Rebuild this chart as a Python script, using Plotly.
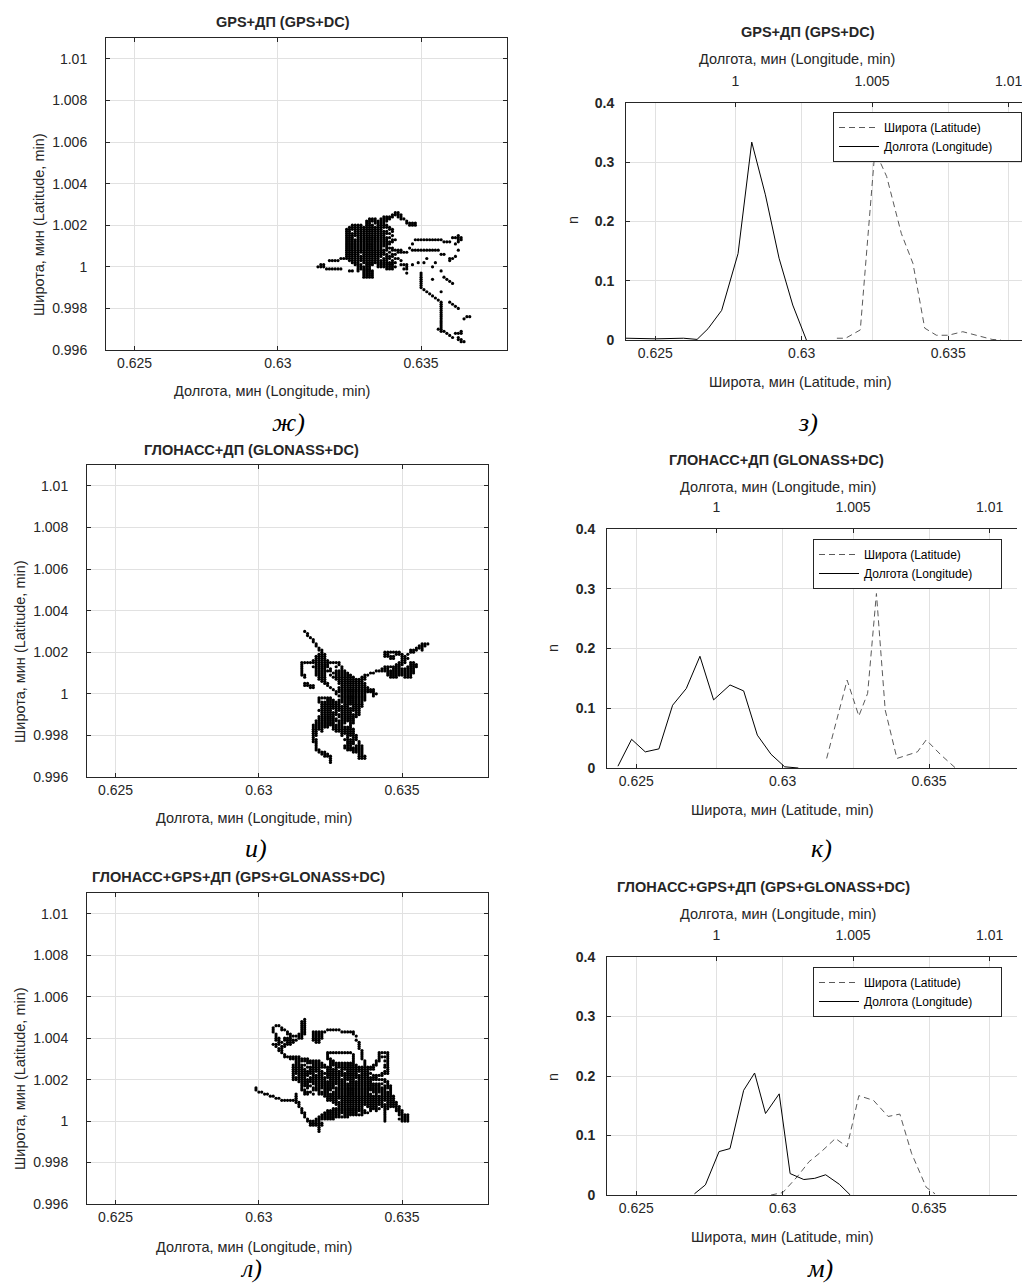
import plotly.graph_objects as go

# Page body has an 8 px default margin; figure is sized so the chart fills the 1030x1287 window.
PAGE_W, PAGE_H, BODY = 1030, 1287, 8
W, H = PAGE_W - BODY, PAGE_H - BODY
FONT = "Liberation Sans, Arial, sans-serif"
SERIF = "Liberation Serif, Times New Roman, serif"
INK = "#262626"
GRID = "#e1e1e1"

# ---------------- DATA ----------------
# Panel ж (GPS+DC): dots grouped by latitude row, longitude values per row
ZH_LAT = [1.0026, 1.0025, 1.0024, 1.0023, 1.0022, 1.0021, 1.0020, 1.0019, 1.0018, 1.0017,
          1.0016, 1.0015, 1.0014, 1.0013, 1.0012, 1.0011, 1.0010, 1.0009, 1.0008, 1.0007,
          1.0006, 1.0005, 1.0004, 1.0003, 1.0002, 1.0001, 1.0000, 0.9999, 0.9998, 0.9997,
          0.9996, 0.9995, 0.9994, 0.9993, 0.9992, 0.9991, 0.9990, 0.9989, 0.9988, 0.9987,
          0.9986, 0.9985, 0.9984, 0.9983, 0.9982, 0.9981, 0.9980, 0.9979, 0.9978, 0.9977,
          0.9976, 0.9975, 0.9974, 0.9973, 0.9972, 0.9971, 0.9970, 0.9969, 0.9968, 0.9967,
          0.9966, 0.9965, 0.9964]
ZH_LON = [
    [0.6341, 0.6342],
    [0.6340, 0.6341, 0.6342, 0.6343],
    [0.6337, 0.6338, 0.6339, 0.6340, 0.6342, 0.6343],
    [0.6332, 0.6333, 0.6334, 0.6336, 0.6337, 0.6338, 0.6339, 0.6343, 0.6344],
    [0.6331, 0.6332, 0.6333, 0.6334, 0.6335, 0.6336, 0.6337, 0.6338, 0.6345],
    [0.6331, 0.6332, 0.6334, 0.6335, 0.6336, 0.6337, 0.6345, 0.6346, 0.6347, 0.6348],
    [0.6326, 0.6327, 0.6328, 0.6329, 0.6331, 0.6332, 0.6333, 0.6335, 0.6336, 0.6337, 0.6338, 0.6346, 0.6347, 0.6348],
    [0.6325, 0.6326, 0.6327, 0.6328, 0.6329, 0.6330, 0.6331, 0.6332, 0.6333, 0.6334, 0.6335, 0.6336, 0.6337, 0.6338, 0.6339],
    [0.6324, 0.6325, 0.6326, 0.6327, 0.6328, 0.6329, 0.6330, 0.6331, 0.6332, 0.6333, 0.6334, 0.6335, 0.6336, 0.6339, 0.6340],
    [0.6324, 0.6325, 0.6327, 0.6328, 0.6329, 0.6330, 0.6331, 0.6332, 0.6333, 0.6334, 0.6335, 0.6336, 0.6337, 0.6338, 0.6340],
    [0.6324, 0.6325, 0.6326, 0.6327, 0.6328, 0.6329, 0.6330, 0.6331, 0.6332, 0.6333, 0.6334, 0.6335, 0.6336, 0.6337, 0.6338, 0.6339],
    [0.6324, 0.6325, 0.6326, 0.6327, 0.6328, 0.6329, 0.6330, 0.6331, 0.6332, 0.6333, 0.6334, 0.6335, 0.6336, 0.6337, 0.6340, 0.6363],
    [0.6324, 0.6325, 0.6326, 0.6328, 0.6329, 0.6330, 0.6331, 0.6332, 0.6333, 0.6334, 0.6335, 0.6336, 0.6337, 0.6338, 0.6339, 0.6361, 0.6362, 0.6363, 0.6364],
    [0.6324, 0.6325, 0.6326, 0.6327, 0.6328, 0.6329, 0.6330, 0.6331, 0.6332, 0.6333, 0.6334, 0.6335, 0.6336, 0.6337, 0.6338, 0.6340, 0.6341, 0.6348, 0.6349, 0.6350, 0.6351, 0.6352, 0.6353, 0.6354, 0.6355, 0.6356, 0.6357, 0.6363, 0.6364],
    [0.6324, 0.6325, 0.6326, 0.6327, 0.6328, 0.6329, 0.6330, 0.6331, 0.6332, 0.6333, 0.6334, 0.6335, 0.6336, 0.6337, 0.6338, 0.6339, 0.6340, 0.6358, 0.6359, 0.6360, 0.6363],
    [0.6324, 0.6325, 0.6326, 0.6327, 0.6328, 0.6329, 0.6330, 0.6331, 0.6332, 0.6333, 0.6334, 0.6335, 0.6336, 0.6337, 0.6338, 0.6339, 0.6347, 0.6362],
    [0.6324, 0.6325, 0.6326, 0.6327, 0.6328, 0.6329, 0.6330, 0.6331, 0.6332, 0.6333, 0.6334, 0.6335, 0.6336, 0.6337, 0.6338],
    [0.6324, 0.6325, 0.6326, 0.6327, 0.6328, 0.6329, 0.6330, 0.6331, 0.6332, 0.6333, 0.6334, 0.6335, 0.6336, 0.6338, 0.6339, 0.6340, 0.6346],
    [0.6324, 0.6325, 0.6326, 0.6327, 0.6328, 0.6329, 0.6330, 0.6331, 0.6332, 0.6333, 0.6334, 0.6335, 0.6336, 0.6337, 0.6338, 0.6340, 0.6341, 0.6342, 0.6343, 0.6347, 0.6348, 0.6349, 0.6350, 0.6351, 0.6352, 0.6353, 0.6354, 0.6355, 0.6356, 0.6363],
    [0.6324, 0.6325, 0.6326, 0.6327, 0.6328, 0.6329, 0.6330, 0.6331, 0.6332, 0.6333, 0.6334, 0.6335, 0.6336, 0.6337, 0.6339, 0.6342, 0.6343, 0.6344, 0.6345],
    [0.6324, 0.6325, 0.6326, 0.6327, 0.6328, 0.6330, 0.6331, 0.6332, 0.6333, 0.6334, 0.6335, 0.6336, 0.6337, 0.6338, 0.6340, 0.6341, 0.6357, 0.6358],
    [0.6324, 0.6325, 0.6326, 0.6327, 0.6328, 0.6329, 0.6330, 0.6331, 0.6332, 0.6333, 0.6334, 0.6335, 0.6336, 0.6338, 0.6339, 0.6340, 0.6362],
    [0.6322, 0.6323, 0.6324, 0.6325, 0.6326, 0.6327, 0.6328, 0.6329, 0.6330, 0.6331, 0.6332, 0.6333, 0.6334, 0.6335, 0.6337, 0.6338, 0.6339, 0.6341, 0.6342, 0.6352, 0.6360, 0.6361],
    [0.6318, 0.6319, 0.6320, 0.6321, 0.6325, 0.6326, 0.6327, 0.6328, 0.6329, 0.6330, 0.6331, 0.6332, 0.6333, 0.6334, 0.6335, 0.6336, 0.6337, 0.6338, 0.6340, 0.6343, 0.6360],
    [0.6326, 0.6327, 0.6328, 0.6330, 0.6331, 0.6332, 0.6333, 0.6334, 0.6335, 0.6336, 0.6337, 0.6338, 0.6339, 0.6340, 0.6341, 0.6349, 0.6351, 0.6355],
    [0.6315, 0.6316, 0.6327, 0.6328, 0.6329, 0.6331, 0.6332, 0.6333, 0.6335, 0.6336, 0.6337, 0.6338, 0.6339, 0.6340, 0.6343, 0.6344, 0.6345, 0.6347],
    [0.6314, 0.6315, 0.6316, 0.6328, 0.6329, 0.6330, 0.6331, 0.6332, 0.6335, 0.6336, 0.6337, 0.6338, 0.6339, 0.6340, 0.6341, 0.6345, 0.6354],
    [0.6317, 0.6318, 0.6319, 0.6320, 0.6321, 0.6322, 0.6328, 0.6329, 0.6330, 0.6331, 0.6332, 0.6338, 0.6339, 0.6340, 0.6344, 0.6345],
    [0.6325, 0.6326, 0.6328, 0.6330, 0.6331, 0.6332, 0.6333, 0.6357],
    [0.6330, 0.6331, 0.6332, 0.6333, 0.6345, 0.6350],
    [0.6330, 0.6331, 0.6332, 0.6333, 0.6350],
    [0.6330, 0.6331, 0.6332, 0.6333, 0.6350, 0.6358],
    [0.6350, 0.6354, 0.6359],
    [0.6350, 0.6360],
    [0.6350, 0.6361],
    [0.6350],
    [0.6350],
    [0.6351],
    [0.6352, 0.6357],
    [0.6353],
    [0.6354],
    [0.6355],
    [0.6356],
    [0.6357, 0.6360],
    [0.6357, 0.6361],
    [0.6357, 0.6362],
    [0.6357, 0.6363],
    [0.6357],
    [0.6357],
    [0.6357],
    [0.6357, 0.6366, 0.6367],
    [0.6357, 0.6365],
    [0.6357],
    [0.6357],
    [0.6357],
    [0.6357],
    [0.6356, 0.6357],
    [0.6357, 0.6358, 0.6364],
    [0.6359, 0.6362, 0.6363, 0.6364],
    [0.6360],
    [0.6361, 0.6363],
    [0.6363, 0.6364],
    [0.6364, 0.6365],
]

# Panel и (GLONASS+DC)
I_LAT = [1.0030, 1.0029, 1.0028, 1.0027, 1.0026, 1.0025, 1.0024, 1.0023, 1.0022, 1.0021,
         1.0020, 1.0019, 1.0018, 1.0017, 1.0016, 1.0015, 1.0014, 1.0013, 1.0012, 1.0011,
         1.0010, 1.0009, 1.0008, 1.0007, 1.0006, 1.0005, 1.0004, 1.0003, 1.0002, 1.0001,
         1.0000, 0.9999, 0.9998, 0.9997, 0.9996, 0.9995, 0.9994, 0.9993, 0.9992, 0.9991,
         0.9990, 0.9989, 0.9988, 0.9987, 0.9986, 0.9985, 0.9984, 0.9983, 0.9982, 0.9981,
         0.9980, 0.9979, 0.9978, 0.9977, 0.9976, 0.9975, 0.9974, 0.9973, 0.9972, 0.9971,
         0.9970, 0.9969, 0.9968, 0.9967]
I_LON = [
    [0.6316],
    [0.6317],
    [0.6317],
    [0.6318],
    [0.6319],
    [0.6319],
    [0.6320, 0.6357, 0.6358, 0.6359],
    [0.6320, 0.6356, 0.6357, 0.6358],
    [0.6321, 0.6355, 0.6356, 0.6357],
    [0.6321, 0.6322, 0.6353, 0.6354, 0.6355, 0.6357],
    [0.6322, 0.6344, 0.6345, 0.6346, 0.6347, 0.6348, 0.6349, 0.6353, 0.6354],
    [0.6321, 0.6322, 0.6323, 0.6344, 0.6345, 0.6348, 0.6349, 0.6350, 0.6352],
    [0.6320, 0.6321, 0.6322, 0.6323, 0.6344, 0.6345, 0.6346, 0.6347, 0.6350, 0.6351],
    [0.6320, 0.6321, 0.6322, 0.6323, 0.6346, 0.6347, 0.6350, 0.6351, 0.6352],
    [0.6319, 0.6320, 0.6321, 0.6322, 0.6323, 0.6324, 0.6350, 0.6351],
    [0.6315, 0.6316, 0.6317, 0.6318, 0.6319, 0.6320, 0.6321, 0.6322, 0.6323, 0.6324, 0.6325, 0.6326, 0.6327, 0.6328, 0.6349, 0.6350, 0.6351, 0.6353, 0.6354],
    [0.6315, 0.6320, 0.6321, 0.6322, 0.6323, 0.6324, 0.6328, 0.6348, 0.6349, 0.6350, 0.6353, 0.6354, 0.6355],
    [0.6315, 0.6319, 0.6320, 0.6321, 0.6322, 0.6323, 0.6324, 0.6327, 0.6329, 0.6344, 0.6345, 0.6346, 0.6347, 0.6348, 0.6349, 0.6352, 0.6353, 0.6354, 0.6355],
    [0.6315, 0.6320, 0.6321, 0.6322, 0.6323, 0.6325, 0.6329, 0.6343, 0.6344, 0.6345, 0.6347, 0.6348, 0.6349, 0.6350, 0.6351, 0.6352, 0.6353, 0.6354],
    [0.6315, 0.6320, 0.6321, 0.6322, 0.6323, 0.6324, 0.6325, 0.6327, 0.6328, 0.6329, 0.6330, 0.6341, 0.6342, 0.6343, 0.6344, 0.6345, 0.6346, 0.6347, 0.6348, 0.6349, 0.6350, 0.6351, 0.6352, 0.6353, 0.6354],
    [0.6315, 0.6320, 0.6321, 0.6322, 0.6323, 0.6326, 0.6327, 0.6328, 0.6329, 0.6330, 0.6331, 0.6339, 0.6340, 0.6345, 0.6346, 0.6347, 0.6348, 0.6349, 0.6350, 0.6351, 0.6352, 0.6353, 0.6354],
    [0.6315, 0.6316, 0.6320, 0.6321, 0.6322, 0.6323, 0.6325, 0.6327, 0.6328, 0.6329, 0.6330, 0.6331, 0.6332, 0.6337, 0.6338, 0.6345, 0.6346, 0.6347, 0.6348, 0.6349, 0.6350, 0.6351, 0.6352, 0.6353],
    [0.6316, 0.6321, 0.6322, 0.6323, 0.6326, 0.6327, 0.6328, 0.6329, 0.6330, 0.6331, 0.6332, 0.6333, 0.6336, 0.6337, 0.6346, 0.6347, 0.6348, 0.6351, 0.6352, 0.6353],
    [0.6321, 0.6322, 0.6323, 0.6327, 0.6328, 0.6329, 0.6330, 0.6331, 0.6332, 0.6333, 0.6334, 0.6335, 0.6336, 0.6337],
    [0.6322, 0.6323, 0.6328, 0.6329, 0.6330, 0.6331, 0.6332, 0.6333, 0.6334, 0.6335, 0.6336],
    [0.6316, 0.6317, 0.6323, 0.6324, 0.6328, 0.6329, 0.6330, 0.6331, 0.6332, 0.6333, 0.6334, 0.6335, 0.6336, 0.6337],
    [0.6316, 0.6317, 0.6318, 0.6319, 0.6324, 0.6329, 0.6330, 0.6331, 0.6332, 0.6333, 0.6334, 0.6335, 0.6336, 0.6337],
    [0.6318, 0.6319, 0.6325, 0.6328, 0.6329, 0.6330, 0.6331, 0.6332, 0.6333, 0.6334, 0.6335, 0.6336, 0.6337, 0.6338],
    [0.6326, 0.6328, 0.6329, 0.6330, 0.6331, 0.6332, 0.6333, 0.6334, 0.6335, 0.6336, 0.6337, 0.6338, 0.6339, 0.6340],
    [0.6327, 0.6328, 0.6329, 0.6330, 0.6331, 0.6332, 0.6333, 0.6334, 0.6335, 0.6336, 0.6337, 0.6338, 0.6339, 0.6340],
    [0.6327, 0.6329, 0.6330, 0.6331, 0.6332, 0.6333, 0.6334, 0.6335, 0.6336, 0.6337, 0.6340, 0.6341],
    [0.6328, 0.6329, 0.6330, 0.6331, 0.6332, 0.6333, 0.6334, 0.6335, 0.6336, 0.6337, 0.6340],
    [0.6321, 0.6322, 0.6323, 0.6324, 0.6325, 0.6329, 0.6330, 0.6331, 0.6332, 0.6333, 0.6334, 0.6335, 0.6336, 0.6337],
    [0.6321, 0.6324, 0.6325, 0.6326, 0.6328, 0.6329, 0.6330, 0.6331, 0.6332, 0.6333, 0.6334, 0.6335, 0.6336, 0.6337],
    [0.6321, 0.6322, 0.6323, 0.6324, 0.6325, 0.6326, 0.6327, 0.6328, 0.6329, 0.6330, 0.6331, 0.6332, 0.6333, 0.6334, 0.6335, 0.6336],
    [0.6322, 0.6323, 0.6324, 0.6325, 0.6326, 0.6327, 0.6328, 0.6330, 0.6331, 0.6332, 0.6333, 0.6334, 0.6335, 0.6336],
    [0.6322, 0.6323, 0.6324, 0.6325, 0.6326, 0.6327, 0.6328, 0.6329, 0.6330, 0.6331, 0.6333, 0.6334, 0.6335, 0.6336],
    [0.6322, 0.6323, 0.6324, 0.6325, 0.6326, 0.6327, 0.6328, 0.6329, 0.6330, 0.6331, 0.6332, 0.6333, 0.6334, 0.6335],
    [0.6321, 0.6322, 0.6323, 0.6324, 0.6325, 0.6327, 0.6328, 0.6329, 0.6330, 0.6331, 0.6332, 0.6333, 0.6334, 0.6335],
    [0.6322, 0.6323, 0.6324, 0.6325, 0.6326, 0.6327, 0.6329, 0.6330, 0.6331, 0.6332, 0.6334, 0.6335],
    [0.6322, 0.6323, 0.6324, 0.6325, 0.6326, 0.6327, 0.6328, 0.6329, 0.6330, 0.6331, 0.6332, 0.6333, 0.6334, 0.6335],
    [0.6321, 0.6322, 0.6323, 0.6324, 0.6325, 0.6326, 0.6328, 0.6329, 0.6330, 0.6331, 0.6332, 0.6333, 0.6334],
    [0.6321, 0.6322, 0.6323, 0.6324, 0.6325, 0.6326, 0.6327, 0.6329, 0.6330, 0.6331, 0.6332, 0.6333],
    [0.6320, 0.6321, 0.6322, 0.6323, 0.6324, 0.6325, 0.6326, 0.6327, 0.6328, 0.6329, 0.6330, 0.6331, 0.6332, 0.6333],
    [0.6320, 0.6321, 0.6322, 0.6323, 0.6324, 0.6325, 0.6326, 0.6328, 0.6329, 0.6330, 0.6332, 0.6333],
    [0.6319, 0.6320, 0.6321, 0.6322, 0.6323, 0.6324, 0.6325, 0.6326, 0.6327, 0.6328, 0.6329, 0.6332],
    [0.6319, 0.6320, 0.6321, 0.6322, 0.6323, 0.6324, 0.6326, 0.6327, 0.6328, 0.6329, 0.6330, 0.6331, 0.6332],
    [0.6319, 0.6320, 0.6321, 0.6322, 0.6326, 0.6327, 0.6328, 0.6329, 0.6330, 0.6331, 0.6332, 0.6333],
    [0.6319, 0.6320, 0.6322, 0.6327, 0.6328, 0.6329, 0.6330, 0.6331, 0.6332, 0.6333],
    [0.6319, 0.6320, 0.6329, 0.6330, 0.6331, 0.6332, 0.6333],
    [0.6319, 0.6320, 0.6329, 0.6331, 0.6332, 0.6333, 0.6334],
    [0.6319, 0.6331, 0.6333, 0.6334],
    [0.6319, 0.6320, 0.6330, 0.6331, 0.6332, 0.6333, 0.6334],
    [0.6319, 0.6320, 0.6331, 0.6332, 0.6333, 0.6335],
    [0.6320, 0.6331, 0.6332, 0.6333, 0.6335],
    [0.6320, 0.6330, 0.6331, 0.6332, 0.6334, 0.6335, 0.6336],
    [0.6320, 0.6330, 0.6331, 0.6332, 0.6333, 0.6334, 0.6335, 0.6336],
    [0.6320, 0.6321, 0.6331, 0.6332, 0.6333, 0.6334, 0.6335, 0.6336],
    [0.6321, 0.6322, 0.6323, 0.6333, 0.6334, 0.6335, 0.6336],
    [0.6322, 0.6323, 0.6324, 0.6335, 0.6336],
    [0.6323, 0.6324, 0.6325, 0.6335, 0.6336, 0.6337],
    [0.6325, 0.6335, 0.6336, 0.6337],
    [0.6325],
    [0.6325],
]

# Panel л (GPS+GLONASS+DC)
L_LAT = [1.0049, 1.0048, 1.0047, 1.0046, 1.0045, 1.0044, 1.0043, 1.0042, 1.0041, 1.0040,
         1.0039, 1.0038, 1.0037, 1.0036, 1.0035, 1.0034, 1.0033, 1.0032, 1.0031, 1.0030,
         1.0029, 1.0028, 1.0027, 1.0026, 1.0025, 1.0024, 1.0023, 1.0022, 1.0021, 1.0020,
         1.0019, 1.0018, 1.0017, 1.0016, 1.0015, 1.0014, 1.0013, 1.0012, 1.0011, 1.0010,
         1.0009, 1.0008, 1.0007, 1.0006, 1.0005, 1.0004, 1.0003, 1.0002, 1.0001, 1.0000,
         0.9999, 0.9998, 0.9997, 0.9996, 0.9995]
L_LON = [
    [0.6316],
    [0.6315, 0.6316],
    [0.6315, 0.6316],
    [0.6306, 0.6307, 0.6315, 0.6316],
    [0.6305, 0.6308, 0.6315, 0.6316],
    [0.6305, 0.6308, 0.6309, 0.6315, 0.6316, 0.6324, 0.6325, 0.6326, 0.6327, 0.6328],
    [0.6305, 0.6310, 0.6315, 0.6316, 0.6319, 0.6320, 0.6321, 0.6322, 0.6323, 0.6329, 0.6330, 0.6331, 0.6332, 0.6333],
    [0.6306, 0.6310, 0.6311, 0.6314, 0.6315, 0.6316, 0.6319, 0.6320, 0.6321, 0.6322, 0.6333],
    [0.6306, 0.6311, 0.6312, 0.6313, 0.6314, 0.6315, 0.6319, 0.6320, 0.6321, 0.6322, 0.6334],
    [0.6306, 0.6307, 0.6309, 0.6310, 0.6311, 0.6314, 0.6315, 0.6319, 0.6320, 0.6321, 0.6322],
    [0.6306, 0.6307, 0.6309, 0.6310, 0.6311, 0.6312, 0.6313, 0.6319, 0.6320, 0.6321, 0.6334],
    [0.6307, 0.6308, 0.6310, 0.6311, 0.6312, 0.6320, 0.6321, 0.6335],
    [0.6305, 0.6306, 0.6307, 0.6309, 0.6310, 0.6311, 0.6335],
    [0.6306, 0.6308, 0.6309, 0.6335],
    [0.6307, 0.6308, 0.6335],
    [0.6307, 0.6308, 0.6336],
    [0.6308, 0.6324, 0.6325, 0.6326, 0.6327, 0.6328, 0.6329, 0.6330, 0.6331, 0.6332, 0.6336, 0.6342, 0.6343, 0.6344, 0.6345],
    [0.6309, 0.6324, 0.6333, 0.6336, 0.6342, 0.6345],
    [0.6309, 0.6310, 0.6311, 0.6312, 0.6313, 0.6314, 0.6324, 0.6333, 0.6336, 0.6342, 0.6343, 0.6344, 0.6345],
    [0.6311, 0.6312, 0.6313, 0.6314, 0.6315, 0.6316, 0.6317, 0.6324, 0.6325, 0.6333, 0.6336, 0.6342, 0.6345],
    [0.6313, 0.6314, 0.6315, 0.6316, 0.6317, 0.6318, 0.6319, 0.6320, 0.6321, 0.6325, 0.6326, 0.6333, 0.6337, 0.6341, 0.6342, 0.6344, 0.6345],
    [0.6313, 0.6314, 0.6317, 0.6318, 0.6319, 0.6320, 0.6321, 0.6322, 0.6325, 0.6326, 0.6327, 0.6328, 0.6329, 0.6330, 0.6331, 0.6332, 0.6333, 0.6337, 0.6341, 0.6345],
    [0.6312, 0.6313, 0.6314, 0.6315, 0.6316, 0.6319, 0.6320, 0.6321, 0.6322, 0.6323, 0.6325, 0.6326, 0.6327, 0.6328, 0.6329, 0.6330, 0.6331, 0.6332, 0.6333, 0.6334, 0.6337, 0.6340, 0.6341, 0.6344, 0.6345],
    [0.6312, 0.6313, 0.6314, 0.6315, 0.6317, 0.6318, 0.6319, 0.6320, 0.6321, 0.6322, 0.6323, 0.6324, 0.6325, 0.6327, 0.6328, 0.6329, 0.6330, 0.6331, 0.6332, 0.6333, 0.6334, 0.6335, 0.6336, 0.6337, 0.6338, 0.6339, 0.6340, 0.6344, 0.6345],
    [0.6312, 0.6313, 0.6314, 0.6315, 0.6316, 0.6318, 0.6319, 0.6320, 0.6321, 0.6324, 0.6325, 0.6326, 0.6327, 0.6329, 0.6330, 0.6331, 0.6332, 0.6333, 0.6334, 0.6335, 0.6336, 0.6337, 0.6338, 0.6339, 0.6340, 0.6345],
    [0.6312, 0.6313, 0.6314, 0.6315, 0.6316, 0.6317, 0.6318, 0.6319, 0.6320, 0.6321, 0.6322, 0.6324, 0.6325, 0.6326, 0.6327, 0.6328, 0.6329, 0.6331, 0.6332, 0.6333, 0.6334, 0.6335, 0.6336, 0.6337, 0.6338, 0.6344, 0.6345],
    [0.6312, 0.6313, 0.6314, 0.6315, 0.6316, 0.6317, 0.6318, 0.6319, 0.6321, 0.6322, 0.6323, 0.6324, 0.6325, 0.6326, 0.6327, 0.6328, 0.6329, 0.6330, 0.6331, 0.6332, 0.6333, 0.6334, 0.6336, 0.6337, 0.6338, 0.6339, 0.6343, 0.6344, 0.6345],
    [0.6312, 0.6314, 0.6315, 0.6316, 0.6317, 0.6319, 0.6320, 0.6321, 0.6322, 0.6324, 0.6325, 0.6326, 0.6327, 0.6328, 0.6329, 0.6330, 0.6331, 0.6332, 0.6333, 0.6334, 0.6335, 0.6336, 0.6337, 0.6338, 0.6340, 0.6341, 0.6342, 0.6343],
    [0.6312, 0.6313, 0.6314, 0.6315, 0.6316, 0.6318, 0.6319, 0.6320, 0.6321, 0.6322, 0.6323, 0.6324, 0.6325, 0.6326, 0.6327, 0.6328, 0.6330, 0.6331, 0.6332, 0.6333, 0.6334, 0.6335, 0.6336, 0.6337, 0.6338, 0.6339, 0.6340, 0.6341],
    [0.6312, 0.6313, 0.6314, 0.6315, 0.6316, 0.6317, 0.6318, 0.6319, 0.6320, 0.6321, 0.6322, 0.6323, 0.6325, 0.6326, 0.6327, 0.6328, 0.6329, 0.6330, 0.6331, 0.6332, 0.6333, 0.6335, 0.6336, 0.6337, 0.6338, 0.6339, 0.6340, 0.6341, 0.6342, 0.6343, 0.6344],
    [0.6314, 0.6315, 0.6316, 0.6317, 0.6318, 0.6319, 0.6320, 0.6321, 0.6322, 0.6323, 0.6324, 0.6325, 0.6326, 0.6327, 0.6328, 0.6329, 0.6330, 0.6332, 0.6333, 0.6334, 0.6335, 0.6336, 0.6337, 0.6338, 0.6339, 0.6344, 0.6345],
    [0.6315, 0.6316, 0.6317, 0.6319, 0.6320, 0.6321, 0.6322, 0.6323, 0.6324, 0.6325, 0.6326, 0.6327, 0.6328, 0.6329, 0.6330, 0.6331, 0.6332, 0.6333, 0.6334, 0.6335, 0.6336, 0.6337, 0.6338, 0.6339, 0.6340, 0.6341, 0.6342, 0.6343, 0.6345],
    [0.6315, 0.6316, 0.6317, 0.6318, 0.6320, 0.6321, 0.6322, 0.6323, 0.6324, 0.6325, 0.6326, 0.6328, 0.6329, 0.6330, 0.6331, 0.6332, 0.6333, 0.6334, 0.6335, 0.6336, 0.6337, 0.6338, 0.6339, 0.6340, 0.6341, 0.6342, 0.6344, 0.6345, 0.6346],
    [0.6299, 0.6315, 0.6317, 0.6319, 0.6320, 0.6321, 0.6322, 0.6323, 0.6324, 0.6325, 0.6326, 0.6327, 0.6328, 0.6329, 0.6330, 0.6331, 0.6332, 0.6333, 0.6334, 0.6335, 0.6336, 0.6337, 0.6338, 0.6339, 0.6340, 0.6341, 0.6342, 0.6343, 0.6344, 0.6345, 0.6346],
    [0.6299, 0.6315, 0.6316, 0.6319, 0.6320, 0.6321, 0.6323, 0.6324, 0.6325, 0.6327, 0.6328, 0.6329, 0.6330, 0.6331, 0.6332, 0.6333, 0.6334, 0.6335, 0.6336, 0.6337, 0.6338, 0.6339, 0.6340, 0.6341, 0.6342, 0.6343, 0.6344, 0.6346],
    [0.6300, 0.6301, 0.6316, 0.6317, 0.6318, 0.6321, 0.6322, 0.6323, 0.6324, 0.6326, 0.6327, 0.6328, 0.6329, 0.6330, 0.6331, 0.6332, 0.6333, 0.6334, 0.6335, 0.6336, 0.6337, 0.6338, 0.6340, 0.6341, 0.6342, 0.6343, 0.6344, 0.6345, 0.6346],
    [0.6302, 0.6303, 0.6313, 0.6316, 0.6317, 0.6319, 0.6321, 0.6322, 0.6323, 0.6324, 0.6325, 0.6326, 0.6327, 0.6328, 0.6329, 0.6330, 0.6331, 0.6332, 0.6333, 0.6334, 0.6335, 0.6336, 0.6337, 0.6338, 0.6339, 0.6341, 0.6343, 0.6344, 0.6345, 0.6346],
    [0.6304, 0.6305, 0.6313, 0.6323, 0.6324, 0.6325, 0.6326, 0.6327, 0.6328, 0.6329, 0.6330, 0.6331, 0.6332, 0.6333, 0.6334, 0.6335, 0.6336, 0.6337, 0.6338, 0.6339, 0.6340, 0.6341, 0.6342, 0.6343, 0.6344, 0.6345, 0.6346, 0.6347],
    [0.6306, 0.6307, 0.6313, 0.6324, 0.6325, 0.6326, 0.6327, 0.6328, 0.6329, 0.6330, 0.6331, 0.6332, 0.6333, 0.6334, 0.6335, 0.6336, 0.6337, 0.6338, 0.6339, 0.6340, 0.6341, 0.6342, 0.6343, 0.6344, 0.6345, 0.6346, 0.6347],
    [0.6308, 0.6309, 0.6310, 0.6311, 0.6312, 0.6313, 0.6324, 0.6325, 0.6326, 0.6327, 0.6329, 0.6330, 0.6331, 0.6332, 0.6333, 0.6334, 0.6335, 0.6336, 0.6337, 0.6338, 0.6339, 0.6340, 0.6341, 0.6342, 0.6343, 0.6344, 0.6345, 0.6346, 0.6347],
    [0.6313, 0.6314, 0.6326, 0.6327, 0.6328, 0.6329, 0.6330, 0.6331, 0.6332, 0.6333, 0.6334, 0.6335, 0.6336, 0.6337, 0.6338, 0.6339, 0.6340, 0.6341, 0.6342, 0.6343, 0.6345, 0.6346, 0.6347, 0.6348],
    [0.6314, 0.6327, 0.6328, 0.6329, 0.6330, 0.6331, 0.6332, 0.6333, 0.6334, 0.6335, 0.6336, 0.6337, 0.6338, 0.6339, 0.6340, 0.6341, 0.6342, 0.6343, 0.6344, 0.6345, 0.6346, 0.6347, 0.6348],
    [0.6314, 0.6328, 0.6329, 0.6330, 0.6331, 0.6332, 0.6333, 0.6334, 0.6335, 0.6336, 0.6338, 0.6339, 0.6340, 0.6341, 0.6343, 0.6344, 0.6345, 0.6346, 0.6347, 0.6348, 0.6349],
    [0.6315, 0.6326, 0.6327, 0.6328, 0.6329, 0.6330, 0.6331, 0.6332, 0.6333, 0.6334, 0.6335, 0.6336, 0.6339, 0.6340, 0.6341, 0.6342, 0.6344, 0.6345, 0.6348, 0.6349],
    [0.6315, 0.6324, 0.6325, 0.6326, 0.6327, 0.6328, 0.6329, 0.6330, 0.6331, 0.6332, 0.6333, 0.6334, 0.6335, 0.6336, 0.6337, 0.6339, 0.6341, 0.6344, 0.6348, 0.6349, 0.6350],
    [0.6315, 0.6316, 0.6323, 0.6324, 0.6325, 0.6326, 0.6327, 0.6328, 0.6329, 0.6330, 0.6331, 0.6332, 0.6333, 0.6334, 0.6336, 0.6337, 0.6338, 0.6344, 0.6349, 0.6350],
    [0.6316, 0.6322, 0.6323, 0.6324, 0.6325, 0.6326, 0.6327, 0.6328, 0.6330, 0.6331, 0.6332, 0.6333, 0.6334, 0.6335, 0.6336, 0.6344, 0.6349, 0.6350, 0.6351, 0.6352],
    [0.6316, 0.6321, 0.6322, 0.6323, 0.6324, 0.6325, 0.6326, 0.6327, 0.6328, 0.6329, 0.6330, 0.6331, 0.6344, 0.6350, 0.6351, 0.6352],
    [0.6317, 0.6320, 0.6321, 0.6322, 0.6323, 0.6324, 0.6325, 0.6326, 0.6344, 0.6349, 0.6350, 0.6351, 0.6352],
    [0.6317, 0.6318, 0.6319, 0.6320, 0.6321, 0.6344, 0.6350, 0.6351, 0.6352],
    [0.6318, 0.6319, 0.6320, 0.6321, 0.6322],
    [0.6318, 0.6319, 0.6320, 0.6321, 0.6322],
    [0.6321],
    [0.6321],
    [0.6321],
]

# Histogram з (GPS+DC)
Z_LAT_X = [0.6312, 0.6315, 0.6320, 0.6325, 0.6329, 0.6334, 0.6338, 0.6342, 0.6346, 0.6350, 0.6355, 0.6361, 0.6365, 0.6368]
Z_LAT_N = [0.003, 0.003, 0.017, 0.320, 0.276, 0.180, 0.129, 0.020, 0.008, 0.008, 0.014, 0.006, 0.001, 0.000]
Z_LON_X = [0.9960, 0.9971, 0.9981, 0.9986, 0.9990, 0.9995, 1.0001, 1.0006, 1.0011, 1.0016, 1.0021, 1.0026]
Z_LON_N = [0.003, 0.002, 0.003, 0.001, 0.019, 0.050, 0.146, 0.334, 0.245, 0.138, 0.059, 0.000]

# Histogram к (GLONASS+DC)
K_LAT_X = [0.6315, 0.6322, 0.6326, 0.6329, 0.6332, 0.6335, 0.6339, 0.6346, 0.6349, 0.6354, 0.6359]
K_LAT_N = [0.016, 0.147, 0.087, 0.125, 0.292, 0.097, 0.016, 0.027, 0.047, 0.022, 0.000]
K_LON_X = [0.9964, 0.9969, 0.9974, 0.9979, 0.9984, 0.9989, 0.9994, 0.9999, 1.0005, 1.0010, 1.0015, 1.0020, 1.0025, 1.0030]
K_LON_N = [0.003, 0.048, 0.027, 0.032, 0.105, 0.133, 0.187, 0.114, 0.139, 0.129, 0.055, 0.023, 0.002, 0.000]

# Histogram м (GPS+GLONASS+DC)
M_LAT_X = [0.6296, 0.6300, 0.6305, 0.6309, 0.6313, 0.6318, 0.6322, 0.6326, 0.6331, 0.6336, 0.6340, 0.6344, 0.6349, 0.6352]
M_LAT_N = [0.000, 0.004, 0.031, 0.056, 0.072, 0.095, 0.081, 0.167, 0.159, 0.132, 0.136, 0.070, 0.013, 0.002]
M_LON_X = [0.9992, 0.9996, 1.0001, 1.0005, 1.0010, 1.0014, 1.0018, 1.0023, 1.0027, 1.0032, 1.0036, 1.0040, 1.0045, 1.0049]
M_LON_N = [0.002, 0.017, 0.073, 0.078, 0.176, 0.205, 0.137, 0.170, 0.036, 0.026, 0.028, 0.034, 0.018, 0.000]

SC_XTICKS = [0.625, 0.63, 0.635]
SC_XTEXT = ["0.625", "0.63", "0.635"]
SC_YTICKS = [0.996, 0.998, 1.0, 1.002, 1.004, 1.006, 1.008, 1.01]
SC_YTEXT = ["0.996", "0.998", "1", "1.002", "1.004", "1.006", "1.008", "1.01"]
TOP_TICKS = [1.0, 1.005, 1.01]
TOP_TEXT = ["1", "1.005", "1.01"]
N_TICKS = [0, 0.1, 0.2, 0.3, 0.4]
N_TEXT = ["0", "0.1", "0.2", "0.3", "0.4"]

LAT_NAME = "Широта (Latitude)"
LON_NAME = "Долгота (Longitude)"

assert len(ZH_LAT) == len(ZH_LON)
assert len(I_LAT) == len(I_LON)
assert len(L_LAT) == len(L_LON)


# ---------------- FIGURE ----------------
def fx(p):
    """page pixel (x) -> paper fraction"""
    return (p - BODY) / W


def fy(p):
    """page pixel (y) -> paper fraction"""
    return 1 - (p - BODY) / H


fig = go.Figure()


def add_dots(lat_rows, lon_rows, xa, ya):
    lons, lats = [], []
    for lat, row in zip(lat_rows, lon_rows):
        for lon in row:
            lons.append(lon)
            lats.append(lat)
    fig.add_trace(go.Scatter(x=lons, y=lats, mode="markers", xaxis=xa, yaxis=ya,
                             marker=dict(size=3.2, color="black", line=dict(width=0)),
                             showlegend=False, hoverinfo="skip"))


add_dots(ZH_LAT, ZH_LON, "x", "y")
add_dots(I_LAT, I_LON, "x2", "y2")
add_dots(L_LAT, L_LON, "x3", "y3")

# legend box in the reference is wider than its text; pad the longer label with no-break spaces
LEG_PAD = "\u00a0" * 7


def add_hist(lat_x, lat_n, lon_x, lon_n, xb, xt, ya, leg):
    fig.add_trace(go.Scatter(x=lat_x, y=lat_n, mode="lines", xaxis=xb, yaxis=ya, name=LAT_NAME,
                             line=dict(color="#5a5a5a", width=1, dash="6px,4px"),
                             legend=leg, hoverinfo="skip"))
    fig.add_trace(go.Scatter(x=lon_x, y=lon_n, mode="lines", xaxis=xt, yaxis=ya, name=LON_NAME + LEG_PAD,
                             line=dict(color="black", width=1),
                             legend=leg, hoverinfo="skip"))


add_hist(Z_LAT_X, Z_LAT_N, Z_LON_X, Z_LON_N, "x4", "x5", "y4", "legend")
add_hist(K_LAT_X, K_LAT_N, K_LON_X, K_LON_N, "x6", "x7", "y5", "legend2")
add_hist(M_LAT_X, M_LAT_N, M_LON_X, M_LON_N, "x8", "x9", "y6", "legend3")

tickfont = dict(family=FONT, size=14, color=INK)
boldtick = dict(family=FONT, size=14, color=INK, weight="bold")
base = dict(showgrid=True, gridcolor=GRID, gridwidth=1, zeroline=False, ticks="inside",
            ticklen=4, tickcolor=INK, tickwidth=1, showline=True, linecolor=INK, linewidth=1)


def sc_x(l, r, anchor):
    return dict(base, domain=[fx(l), fx(r)], anchor=anchor, range=[0.624, 0.638],
                tickvals=SC_XTICKS, ticktext=SC_XTEXT, tickfont=tickfont, mirror="ticks",
                ticklabelstandoff=0)


def sc_y(b, t, anchor):
    return dict(base, domain=[fy(b), fy(t)], anchor=anchor, range=[0.996, 1.011],
                tickvals=SC_YTICKS, ticktext=SC_YTEXT, tickfont=tickfont, mirror="ticks",
                ticklabelstandoff=15)


def hb_x(l, r, anchor, rng):
    return dict(base, domain=[fx(l), min(1.0, fx(r))], anchor=anchor, range=rng,
                tickvals=SC_XTICKS, ticktext=SC_XTEXT, tickfont=tickfont, ticklabelstandoff=0)


def ht_x(l, r, anchor, over, rng):
    return dict(base, domain=[fx(l), min(1.0, fx(r))], anchor=anchor, overlaying=over, side="top",
                range=rng, tickvals=TOP_TICKS, ticktext=TOP_TEXT, tickfont=tickfont,
                ticklabelstandoff=10)


def h_y(b, t, anchor):
    return dict(base, domain=[fy(b), fy(t)], anchor=anchor, range=[0, 0.4],
                tickvals=N_TICKS, ticktext=N_TEXT, tickfont=boldtick, ticklabelstandoff=8)


legend_common = dict(xanchor="left", yanchor="top", bgcolor="white", bordercolor=INK, borderwidth=1,
                     font=dict(family=FONT, size=12, color="black"), itemwidth=40,
                     tracegroupgap=0, traceorder="normal")

fig.update_layout(
    width=W, height=H, margin=dict(l=0, r=0, t=0, b=0), template="none",
    paper_bgcolor="white", plot_bgcolor="white", showlegend=True,
    xaxis=sc_x(106, 507, "y"), yaxis=sc_y(350, 38, "x"),
    xaxis2=sc_x(87, 488, "y2"), yaxis2=sc_y(777, 465, "x2"),
    xaxis3=sc_x(87, 488, "y3"), yaxis3=sc_y(1204, 893, "x3"),
    xaxis4=hb_x(626, 1030, "y4", [0.624, 0.637795]),
    xaxis5=ht_x(626, 1030, "y4", "x4", [0.996, 1.01078]),
    yaxis4=h_y(340, 103, "x4"),
    xaxis6=hb_x(607, 1017, "y5", [0.624, 0.638]),
    xaxis7=ht_x(607, 1017, "y5", "x6", [0.996, 1.011]),
    yaxis5=h_y(768, 529, "x6"),
    xaxis8=hb_x(607, 1017, "y6", [0.624, 0.638]),
    xaxis9=ht_x(607, 1017, "y6", "x8", [0.996, 1.011]),
    yaxis6=h_y(1195, 957, "x8"),
    legend=dict(legend_common, x=fx(833), y=fy(112)),
    legend2=dict(legend_common, x=fx(813), y=fy(539)),
    legend3=dict(legend_common, x=fx(813), y=fy(967)),
)

ann = []


def text(t, x, y, size=14.5, weight="normal", angle=0, family=FONT, style="normal"):
    ann.append(dict(text=t, x=fx(x), y=fy(y), xref="paper", yref="paper", showarrow=False,
                    xanchor="center", yanchor="middle", textangle=angle,
                    font=dict(family=family, size=size, color="black" if family == SERIF else INK,
                              weight=weight, style=style)))


XT = "Долгота, мин (Longitude, min)"
YT = "Широта, мин (Latitude, min)"

# titles
text("GPS+ДП (GPS+DC)", 283, 22, 14.5, "bold")
text("GPS+ДП (GPS+DC)", 808, 32, 14.5, "bold")
text("ГЛОНАСС+ДП (GLONASS+DC)", 251, 450, 14.5, "bold")
text("ГЛОНАСС+ДП (GLONASS+DC)", 776, 460, 14.5, "bold")
text("ГЛОНАСС+GPS+ДП (GPS+GLONASS+DC)", 238, 877, 14.5, "bold")
text("ГЛОНАСС+GPS+ДП (GPS+GLONASS+DC)", 763, 887, 14.5, "bold")

# scatter axis titles
text(XT, 272, 391)
text(YT, 39, 225, angle=-90)
text(XT, 254, 818)
text(YT, 20, 652, angle=-90)
text(XT, 254, 1247)
text(YT, 20, 1079, angle=-90)

# histogram axis titles
text(XT, 797, 59)
text(YT, 800, 382)
text("n", 573, 220, angle=-90)
text(XT, 778, 487)
text(YT, 782, 810)
text("n", 553, 648, angle=-90)
text(XT, 778, 914)
text(YT, 782, 1237)
text("n", 553, 1077, angle=-90)

# panel captions
text("ж)", 288, 422, 26, family=SERIF, style="italic")
text("з)", 808, 422, 26, family=SERIF, style="italic")
text("и)", 256, 848, 26, family=SERIF, style="italic")
text("к)", 821, 848, 26, family=SERIF, style="italic")
text("л)", 251, 1268, 26, family=SERIF, style="italic")
text("м)", 820, 1268, 26, family=SERIF, style="italic")

fig.update_layout(annotations=ann)

fig.write_html("out.html", config={"displayModeBar": False})
